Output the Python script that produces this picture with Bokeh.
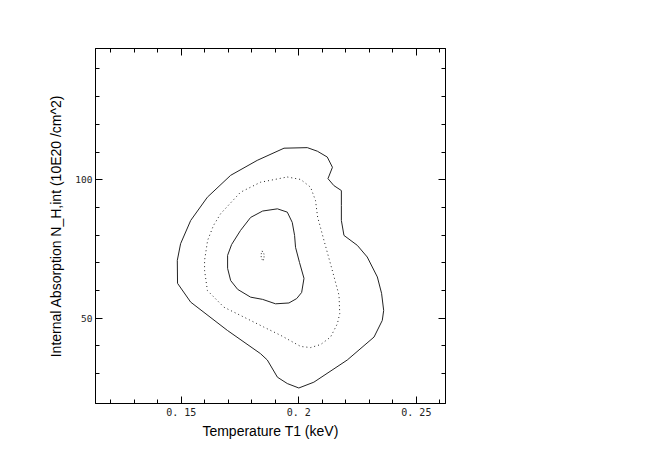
from bokeh.plotting import figure
from bokeh.models import LinearAxis, FixedTicker, Range1d
from bokeh.embed import file_html
from bokeh.resources import INLINE

# ---- data ----
# outer contour (solid)
outer_t = [0.1937, 0.2036, 0.2079, 0.2121, 0.2143, 0.2124, 0.2149, 0.2181, 0.2181, 0.2181,
           0.2192, 0.2249, 0.2291, 0.2334, 0.2352, 0.2361, 0.2355, 0.2320, 0.2206, 0.2064,
           0.2000, 0.1951, 0.1909, 0.1866, 0.1837, 0.1696, 0.1540, 0.1484, 0.1483, 0.1497,
           0.1540, 0.1611, 0.1710, 0.1823, 0.1937]
outer_nh = [111.4, 111.6, 110.3, 108.2, 104.5, 100.4, 97.9, 96.1, 90.7, 85.3,
            79.9, 76.3, 72.1, 64.9, 59.0, 52.8, 49.2, 43.2, 34.9, 26.9,
            24.8, 26.4, 28.7, 34.9, 37.2, 45.6, 55.8, 62.6, 70.9, 76.9,
            85.3, 93.7, 101.6, 107.0, 111.4]

# middle contour (dotted)
mid_t = [0.1951, 0.2008, 0.2050, 0.2071, 0.2080, 0.2107, 0.2140, 0.2171, 0.2174, 0.2164,
         0.2135, 0.2093, 0.2050, 0.2008, 0.1923, 0.1851, 0.1752, 0.1681, 0.1611, 0.1599,
         0.1599, 0.1612, 0.1637, 0.1667, 0.1752, 0.1837, 0.1951]
mid_nh = [101.0, 100.1, 97.3, 92.5, 86.5, 78.1, 68.0, 58.3, 51.7, 48.0,
          43.2, 40.5, 39.4, 39.8, 43.8, 46.8, 51.0, 54.0, 60.0, 67.3,
          70.9, 78.1, 83.5, 87.7, 95.5, 99.1, 101.0]

# inner contour (solid)
inner_t = [0.1846, 0.1909, 0.1951, 0.1972, 0.1982, 0.1986, 0.2003, 0.2022, 0.2012, 0.1991,
           0.1958, 0.1901, 0.1846, 0.1795, 0.1740, 0.1710, 0.1697, 0.1697, 0.1714, 0.1752,
           0.1795, 0.1846]
inner_nh = [88.7, 89.5, 88.3, 84.6, 79.9, 75.6, 70.1, 64.4, 59.3, 57.1,
            55.5, 55.2, 56.8, 57.6, 60.4, 63.6, 68.0, 72.7, 76.6, 81.7,
            86.4, 88.7]

# tiny central contour (dotted)
core_t = [0.1844, 0.1852, 0.1852, 0.1848, 0.1840, 0.1840, 0.1844]
core_nh = [74.3, 73.2, 71.7, 70.7, 71.7, 73.2, 74.3]

x_major = [0.15, 0.2, 0.25]
x_minor = [0.12, 0.13, 0.14, 0.15, 0.16, 0.17, 0.18, 0.19, 0.20, 0.21, 0.22, 0.23, 0.24, 0.25, 0.26]
x_labels = {0.15: "0. 15", 0.2: "0. 2", 0.25: "0. 25"}
y_major = [50, 100]
y_minor = [30, 40, 50, 60, 70, 80, 90, 100, 110, 120, 130, 140]

x_title = "Temperature T1 (keV)"
y_title = "Internal Absorption N_H,int (10E20 /cm^2)"

# ---- figure ----
p = figure(output_backend="svg", toolbar_location=None,
           frame_width=350, frame_height=355,
           min_border_left=95, min_border_top=48, min_border_right=190, min_border_bottom=50,
           x_range=Range1d(0.1135, 0.2624), y_range=Range1d(19.2, 147.4),
           background_fill_color="white", border_fill_color="white")
p.grid.visible = False
p.outline_line_color = "black"
p.outline_line_width = 1

xt = FixedTicker(ticks=x_major, minor_ticks=x_minor)
yt = FixedTicker(ticks=y_major, minor_ticks=y_minor)

def style(ax, show_labels):
    ax.axis_line_color = "black"
    ax.major_tick_in = 7
    ax.major_tick_out = 0
    ax.minor_tick_in = 4
    ax.minor_tick_out = 0
    ax.major_tick_line_color = "black"
    ax.minor_tick_line_color = "black"
    if not show_labels:
        ax.major_label_text_font_size = "0px"
        ax.major_label_text_alpha = 0

p.xaxis.ticker = xt
p.yaxis.ticker = yt
style(p.xaxis[0], True)
style(p.yaxis[0], True)
p.xaxis.major_label_overrides = x_labels
p.xaxis.major_label_text_font = "DejaVu Sans Mono"
p.xaxis.major_label_text_font_size = "10px"
p.xaxis.major_label_text_color = "#222222"
p.xaxis.major_label_standoff = 3
p.yaxis.major_label_text_font = "DejaVu Sans Mono"
p.yaxis.major_label_text_font_size = "9.5px"
p.yaxis.major_label_text_color = "#222222"
p.yaxis.major_label_standoff = 3
p.yaxis.major_label_orientation = "horizontal"

p.xaxis.axis_label = x_title
p.yaxis.axis_label = y_title
for ax in (p.xaxis[0], p.yaxis[0]):
    ax.axis_label_text_font = "Liberation Sans"
    ax.axis_label_text_font_size = "14px"
    ax.axis_label_text_font_style = "normal"
    ax.axis_label_text_color = "black"
p.xaxis.axis_label_standoff = 2
p.yaxis.axis_label_standoff = 8

top = LinearAxis(ticker=FixedTicker(ticks=x_major, minor_ticks=x_minor))
right = LinearAxis(ticker=FixedTicker(ticks=y_major, minor_ticks=y_minor))
style(top, False)
style(right, False)
p.add_layout(top, "above")
p.add_layout(right, "right")

p.line(outer_t, outer_nh, line_color="#222222", line_width=1)
p.line(mid_t, mid_nh, line_color="#222222", line_width=1, line_dash="1 3")
p.line(inner_t, inner_nh, line_color="#222222", line_width=1)
p.line(core_t, core_nh, line_color="#333333", line_width=1, line_dash="1 2")

open("out.html", "w").write(file_html(p, INLINE))
